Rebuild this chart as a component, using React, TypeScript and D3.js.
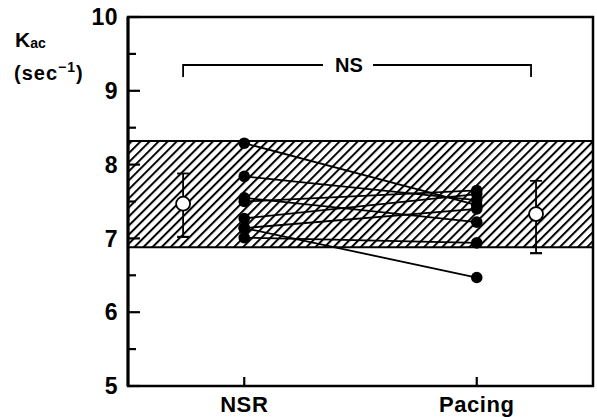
import React from "react"
import * as d3 from "d3"

// Kac values per subject
const nsrValues = [8.29, 7.84, 7.55, 7.5, 7.27, 7.14, 7.14, 7.01]
const pacingValues = [7.45, 7.52, 7.22, 7.65, 7.6, 6.47, 7.4, 6.94]

// mean +/- SD markers
const groupMeans = [7.47, 7.33]
const groupLow = [7.02, 6.8]
const groupHigh = [7.88, 7.78]

// shaded normal range
const normalRange = [6.88, 8.32]

const categories = ["NSR", "Pacing"]
const majorTicks = [5, 6, 7, 8, 9, 10]
const minorTicks = [5.5, 6.5, 7.5, 8.5, 9.5]

const W = 597
const H = 417
const margin = { left: 128, right: 4, top: 17, bottom: 31 }
const font = "'Liberation Sans', Arial, sans-serif"

const App = () => {
    const y = d3.scaleLinear().domain([5, 10]).range([H - margin.bottom, margin.top])
    const x = d3.scaleLinear().domain([-0.5, 1.5]).range([margin.left, W - margin.right])
    // where the mean markers sit, just outside the data columns
    const meanPos = [-0.263, 1.255]
    const left = margin.left
    const right = W - margin.right
    const top = margin.top
    const bottom = H - margin.bottom
    const bracketY = 65

    return (
        <svg width={W} height={H} style={{ position: "absolute", left: 0, top: 0, background: "white" }}>
            <defs>
                <pattern id="hatch" width="6.4" height="6.4" patternUnits="userSpaceOnUse" patternTransform="rotate(45)">
                    <line x1="1" y1="0" x2="1" y2="6.4" stroke="black" strokeWidth="2" />
                </pattern>
            </defs>

            {/* normal range band */}
            <rect x={left} y={y(normalRange[1])} width={right - left} height={y(normalRange[0]) - y(normalRange[1])}
                fill="url(#hatch)" />
            <line x1={left} x2={right} y1={y(normalRange[1])} y2={y(normalRange[1])} stroke="black" strokeWidth={2.2} />
            <line x1={left} x2={right} y1={y(normalRange[0])} y2={y(normalRange[0])} stroke="black" strokeWidth={2.2} />

            {/* frame */}
            <rect x={left} y={top} width={right - left} height={bottom - top} fill="none" stroke="black" strokeWidth={2.5} />
            <line x1={left} x2={left} y1={top} y2={bottom} stroke="black" strokeWidth={3} />

            {/* y ticks */}
            {majorTicks.map(t => (
                <g key={"M" + t}>
                    <line x1={left} x2={left + 12} y1={y(t)} y2={y(t)} stroke="black" strokeWidth={2.2} />
                    <text x={left - 10} y={y(t)} dy="0.36em" textAnchor="end" fontFamily={font}
                        fontWeight="bold" fontSize={23} letterSpacing={0.5}>{t}</text>
                </g>
            ))}
            {minorTicks.map(t => (
                <line key={"m" + t} x1={left} x2={left + 8} y1={y(t)} y2={y(t)} stroke="black" strokeWidth={2.2} />
            ))}

            {/* x ticks and labels */}
            {categories.map((c, i) => (
                <g key={c}>
                    <line x1={x(i)} x2={x(i)} y1={bottom} y2={bottom - 9} stroke="black" strokeWidth={2.2} />
                    <text x={x(i)} y={bottom + 26} textAnchor="middle" fontFamily={font}
                        fontWeight="bold" fontSize={22} letterSpacing={0.6}>{c}</text>
                </g>
            ))}

            {/* y label */}
            <text x={15} y={47} fontFamily={font} fontWeight="bold" fontSize={21}>
                K<tspan fontSize={14} dy={1}>ac</tspan>
            </text>
            <text x={14} y={80} fontFamily={font} fontWeight="bold" fontSize={20} letterSpacing={1}>
                (sec<tspan fontSize={14} dy={-8}>−1</tspan><tspan dy={8}>)</tspan>
            </text>

            {/* NS bracket */}
            <path d={`M${x(meanPos[0])},${bracketY + 12}V${bracketY}H${x(meanPos[1]) - 5}V${bracketY + 12}`}
                fill="none" stroke="black" strokeWidth={1.8} />
            <rect x={323} y={bracketY - 12} width={50} height={24} fill="white" />
            <text x={349} y={bracketY} dy="0.36em" textAnchor="middle" fontFamily={font}
                fontWeight="bold" fontSize={20}>NS</text>

            {/* paired lines */}
            {nsrValues.map((v, i) => (
                <line key={"l" + i} x1={x(0)} y1={y(v)} x2={x(1)} y2={y(pacingValues[i])}
                    stroke="black" strokeWidth={1.8} />
            ))}
            {nsrValues.map((v, i) => (
                <circle key={"n" + i} cx={x(0)} cy={y(v)} r={5.8} fill="black" />
            ))}
            {pacingValues.map((v, i) => (
                <circle key={"p" + i} cx={x(1)} cy={y(v)} r={5.8} fill="black" />
            ))}

            {/* mean +/- SD */}
            {groupMeans.map((m, i) => {
                const cx = x(meanPos[i])
                return (
                    <g key={"mean" + i}>
                        <line x1={cx} x2={cx} y1={y(groupHigh[i])} y2={y(groupLow[i])} stroke="black" strokeWidth={1.8} />
                        <line x1={cx - 6} x2={cx + 6} y1={y(groupHigh[i])} y2={y(groupHigh[i])} stroke="black" strokeWidth={1.8} />
                        <line x1={cx - 6} x2={cx + 6} y1={y(groupLow[i])} y2={y(groupLow[i])} stroke="black" strokeWidth={2.2} />
                        <circle cx={cx} cy={y(m)} r={7} fill="white" stroke="black" strokeWidth={1.8} />
                    </g>
                )
            })}
        </svg>
    )
}

export default App
